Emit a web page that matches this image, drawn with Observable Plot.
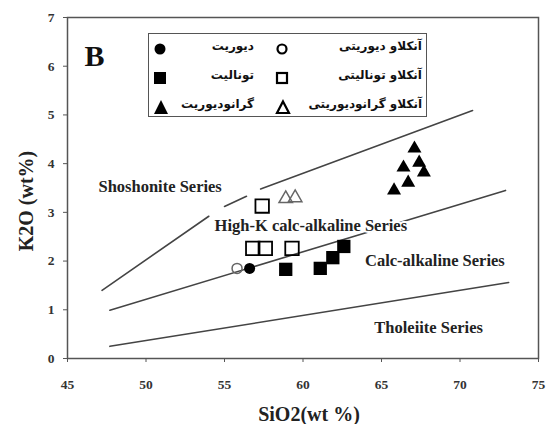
<!DOCTYPE html>
<html>
<head>
<meta charset="utf-8">
<script src="https://cdn.jsdelivr.net/npm/d3@7"></script>
<script src="https://cdn.jsdelivr.net/npm/@observablehq/plot@0.6"></script>
<style>
  html, body { margin: 0; padding: 0; background: #fff; }
  #wrap { position: relative; width: 550px; height: 424px; overflow: hidden; }
  #legend { position: absolute; left: 148px; top: 33px; width: 277px; height: 82px;
    border: 1.5px solid #555; background: #fff; box-sizing: content-box; }
  .cell { position: absolute; top: 0; height: 24px; }
  .cell svg { position: absolute; left: 0; top: 3px; }
  .cell span { position: absolute; right: 0; top: 1px; font-family: "DejaVu Sans", sans-serif;
    font-size: 12px; font-weight: bold; direction: rtl; white-space: nowrap; color: #111; }
</style>
</head>
<body>
<div id="wrap"></div>
<script>
// ---- data ----
const xTicks = [45, 50, 55, 60, 65, 70, 75];
const yTicks = [0, 1, 2, 3, 4, 5, 6, 7];

const groupNames = ["دیوریت", "تونالیت", "گرانودیوریت", "آنکلاو دیوریتی", "آنکلاو تونالیتی", "آنکلاو گرانودیوریتی"];

const dioriteSiO2 = [56.6];
const dioriteK2O = [1.85];
const tonaliteSiO2 = [58.9, 61.1, 61.9, 62.6];
const tonaliteK2O = [1.83, 1.85, 2.07, 2.3];
const granodioriteSiO2 = [65.8, 66.4, 66.7, 67.1, 67.4, 67.7];
const granodioriteK2O = [3.45, 3.92, 3.61, 4.31, 4.02, 3.82];
const enclDioriteSiO2 = [55.8];
const enclDioriteK2O = [1.85];
const enclTonaliteSiO2 = [56.8, 57.6, 59.3, 57.4];
const enclTonaliteK2O = [2.26, 2.26, 2.26, 3.13];
const enclGranodioriteSiO2 = [58.9, 59.5];
const enclGranodioriteK2O = [3.28, 3.3];

// series boundary lines (segments)
const boundaryId = ["th", "th", "ca", "ca", "sh1", "sh1", "sh2", "sh2", "sh3", "sh3"];
const boundarySiO2 = [47.7, 73.1, 47.7, 72.9, 47.2, 54.0, 55.0, 56.4, 57.3, 70.8];
const boundaryK2O = [0.25, 1.56, 0.99, 3.45, 1.40, 2.92, 3.12, 3.33, 3.48, 5.09];

const seriesLabels = ["Shoshonite Series", "High-K calc-alkaline Series", "Calc-alkaline Series", "Tholeiite Series"];
const seriesLabelSiO2 = [50.9, 60.5, 68.4, 68.0];
const seriesLabelK2O = [3.53, 2.73, 2.01, 0.64];

const panelLabel = "B";
const xTitle = "SiO2(wt %)";
const yTitle = "K2O (wt%)";

// ---- build tables ----
const zip = (xs, ys) => xs.map((x, i) => ({x, y: ys[i]}));
const boundaries = boundaryId.map((id, i) => ({id, x: boundarySiO2[i], y: boundaryK2O[i]}));
const labels = seriesLabels.map((t, i) => ({t, x: seriesLabelSiO2[i], y: seriesLabelK2O[i]}));

const serif = "'Liberation Serif', 'Times New Roman', serif";

const plot = Plot.plot({
  width: 550,
  height: 424,
  marginLeft: 67,
  marginRight: 12,
  marginTop: 17,
  marginBottom: 66,
  style: {background: "#fff", fontFamily: serif},
  x: {domain: [45, 75]},
  y: {domain: [0, 7]},
  marks: [
    Plot.line(boundaries, {x: "x", y: "y", z: "id", stroke: "#444", strokeWidth: 1.6}),
    Plot.text(labels, {x: "x", y: "y", text: "t", fontSize: 16.5, fontWeight: "bold", fill: "#222",
      stroke: "#fff", strokeWidth: 4, fontFamily: serif}),
    Plot.frame({stroke: "#555", strokeWidth: 1.5}),
    Plot.axisX({ticks: xTicks, tickSize: 4, tickPadding: 17, label: null, fontSize: 13.5,
      fontWeight: "bold", fill: "#333", stroke: "#555", fontFamily: serif, tickFormat: d3.format("d")}),
    Plot.axisY({ticks: yTicks, tickSize: 4, tickPadding: 9, label: null, fontSize: 13.5,
      fontWeight: "bold", fill: "#333", stroke: "#555", fontFamily: serif, tickFormat: d3.format("d")}),
    Plot.text([xTitle], {frameAnchor: "bottom", lineAnchor: "middle", textAnchor: "middle", dx: 6, dy: 56,
      fontSize: 20, fontWeight: "bold", fill: "#222", fontFamily: serif}),
    Plot.text([yTitle], {frameAnchor: "left", lineAnchor: "middle", textAnchor: "middle", dx: -41, dy: 13, rotate: -90,
      fontSize: 20, fontWeight: "bold", fill: "#222", fontFamily: serif}),
    Plot.text([panelLabel], {frameAnchor: "top-left", lineAnchor: "top", textAnchor: "start", dx: 17, dy: 27,
      fontSize: 30, fontWeight: "bold", fill: "#111", fontFamily: serif}),
    // open symbols
    Plot.dot(zip(enclDioriteSiO2, enclDioriteK2O), {x: "x", y: "y", symbol: "circle", r: 5, stroke: "#666", strokeWidth: 1.5, fill: "none"}),
    Plot.dot(zip(enclTonaliteSiO2, enclTonaliteK2O), {x: "x", y: "y", symbol: "square", r: 7.6, stroke: "#000", strokeWidth: 1.8, fill: "none"}),
    Plot.dot(zip(enclGranodioriteSiO2, enclGranodioriteK2O), {x: "x", y: "y", symbol: "triangle", r: 5, stroke: "#666", strokeWidth: 1.5, fill: "none"}),
    // filled symbols
    Plot.dot(zip(dioriteSiO2, dioriteK2O), {x: "x", y: "y", symbol: "circle", r: 5.5, fill: "#000"}),
    Plot.dot(zip(tonaliteSiO2, tonaliteK2O), {x: "x", y: "y", symbol: "square", r: 7.5, fill: "#000"}),
    Plot.dot(zip(granodioriteSiO2, granodioriteK2O), {x: "x", y: "y", symbol: "triangle", r: 5.2, fill: "#000"})
  ]
});

const wrap = document.getElementById("wrap");
wrap.appendChild(plot);

// ---- legend (HTML overlay) ----
const legendSymbols = [
  '<svg width="14" height="16"><circle cx="7" cy="8" r="5.5" fill="#000"/></svg>',
  '<svg width="14" height="16"><rect x="1" y="2" width="12" height="12" fill="#000"/></svg>',
  '<svg width="16" height="16"><path d="M8 1 L15 15 L1 15 Z" fill="#000"/></svg>',
  '<svg width="14" height="16"><circle cx="7" cy="8" r="4.5" fill="none" stroke="#000" stroke-width="2.2"/></svg>',
  '<svg width="14" height="16"><rect x="2" y="3" width="10" height="10" fill="none" stroke="#000" stroke-width="2.2"/></svg>',
  '<svg width="16" height="16"><path d="M8 2.5 L14 14 L2 14 Z" fill="none" stroke="#000" stroke-width="2.2"/></svg>'
];
const legend = document.createElement("div");
legend.id = "legend";
const rowTops = [4, 33, 62];
const colLeft = [4, 126];
const colWidth = [101, 147];
groupNames.forEach((name, i) => {
  const col = Math.floor(i / 3), row = i % 3;
  const cell = document.createElement("div");
  cell.className = "cell";
  cell.style.left = colLeft[col] + "px";
  cell.style.top = rowTops[row] + "px";
  cell.style.width = colWidth[col] + "px";
  cell.innerHTML = legendSymbols[i] + '<span dir="rtl">' + name + '</span>';
  legend.appendChild(cell);
});
wrap.appendChild(legend);
</script>
</body>
</html>
